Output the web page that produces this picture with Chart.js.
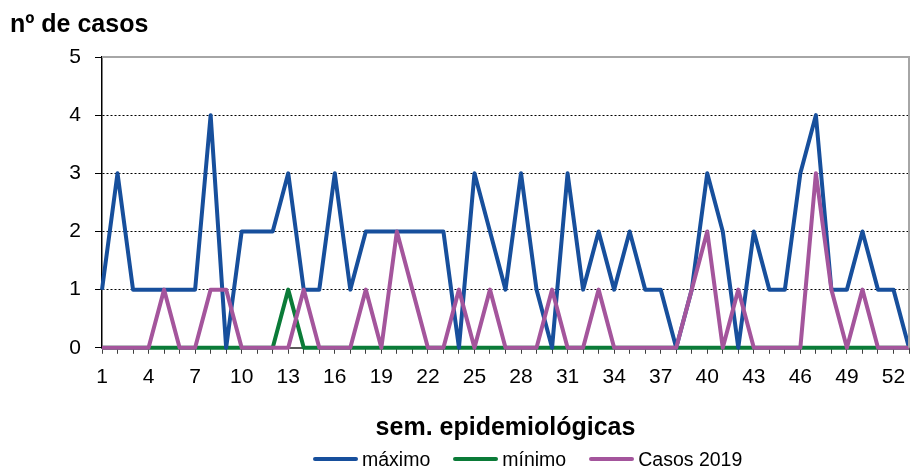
<!DOCTYPE html>
<html>
<head>
<meta charset="utf-8">
<script src="https://cdn.jsdelivr.net/npm/chart.js@4.4.0/dist/chart.umd.min.js"></script>
<style>
    body { margin: 0; background: #fff; }
    #wrap { position: relative; width: 910px; height: 467px; }
    #legend {
        position: absolute; left: 313px; top: 449px; height: 20px;
        display: flex; align-items: center;
        font-family: "Liberation Sans", Arial, sans-serif; font-size: 19.5px; color: #000;
    }
    .item { display: flex; align-items: center; margin-right: 23px; }
    .swatch { width: 45px; height: 4px; border-radius: 2px; margin-right: 4px; }
</style>
</head>
<body>
<div id="wrap">
    <canvas id="chart" width="910" height="467"></canvas>
    <div id="legend"></div>
</div>
<script>
// Weeks (categories)
const weeks = ['1','2','3','4','5','6','7','8','9','10','11','12','13','14','15','16','17','18',
    '19','20','21','22','23','24','25','26','27','28','29','30','31','32','33','34','35','36',
    '37','38','39','40','41','42','43','44','45','46','47','48','49','50','51','52','53'];
const xTickLabels = ['1','4','7','10','13','16','19','22','25','28','31','34','37','40','43','46','49','52'];
const yTickValues = [0, 1, 2, 3, 4, 5];

// Series values
const maximo = [1,3,1,1,1,1,1,4,0,2,2,2,3,1,1,3,1,2,2,2,2,2,2,0,3,2,1,3,1,0,3,1,2,1,2,1,1,0,1,3,2,0,2,1,1,3,4,1,1,2,1,1,0];
const minimo = [0,0,0,0,0,0,0,0,0,0,0,0,1,0,0,0,0,0,0,0,0,0,0,0,0,0,0,0,0,0,0,0,0,0,0,0,0,0,0,0,0,0,0,0,0,0,0,0,0,0,0,0,0];
const casos2019 = [0,0,0,0,1,0,0,1,1,0,0,0,0,1,0,0,0,1,0,2,1,0,0,1,0,1,0,0,0,1,0,0,1,0,0,0,0,0,1,2,0,1,0,0,0,0,3,1,0,1,0,0,0];

const seriesNames = ['máximo', 'mínimo', 'Casos 2019'];
const seriesColors = ['#174f9c', '#0b7b38', '#a4559c'];

const FONT = '"Liberation Sans", Arial, sans-serif';

// Gray frame on the top and right of the plot area
const framePlugin = {
    id: 'frame',
    afterDatasetsDraw(chart) {
        const a = chart.chartArea;
        const ctx = chart.ctx;
        ctx.save();
        ctx.strokeStyle = '#a6a6a6';
        ctx.lineWidth = 2;
        ctx.beginPath();
        ctx.moveTo(a.left, a.top);
        ctx.lineTo(a.right, a.top);
        ctx.lineTo(a.right, a.bottom);
        ctx.stroke();
        ctx.restore();
    }
};

function makeDataset(i, values, order) {
    return {
        label: seriesNames[i],
        data: values,
        borderColor: seriesColors[i],
        backgroundColor: seriesColors[i],
        borderWidth: 4,
        borderJoinStyle: 'round',
        pointRadius: 0,
        tension: 0,
        clip: false,
        order: order
    };
}

new Chart(document.getElementById('chart'), {
    type: 'line',
    data: {
        labels: weeks,
        datasets: [
            makeDataset(0, maximo, 2),
            makeDataset(1, minimo, 3),
            makeDataset(2, casos2019, 1)
        ]
    },
    options: {
        responsive: false,
        animation: false,
        layout: { padding: { left: 10, right: 1, top: 0, bottom: 20 } },
        plugins: {
            legend: { display: false },
            tooltip: { enabled: false },
            title: {
                display: true,
                text: 'nº de casos',
                align: 'start',
                color: '#000',
                font: { family: FONT, size: 25, weight: 'bold' },
                padding: { top: 10, bottom: 17 }
            }
        },
        scales: {
            x: {
                offset: false,
                // plot runs right to the edge, last week has no label
                afterFit: function(scale) { scale.paddingRight = 0; },
                grid: {
                    drawOnChartArea: false,
                    drawTicks: true,
                    tickLength: 6,
                    tickColor: '#404040',
                    tickWidth: 1
                },
                border: { display: true, color: '#595959', width: 2 },
                ticks: {
                    autoSkip: false,
                    maxRotation: 0,
                    padding: 11,
                    color: '#000',
                    font: { family: FONT, size: 21 },
                    callback: function(value, index) {
                        const lbl = weeks[index];
                        return xTickLabels.includes(lbl) ? lbl : '';
                    }
                },
                title: {
                    display: true,
                    text: 'sem. epidemiológicas',
                    color: '#000',
                    font: { family: FONT, size: 25, weight: 'bold' },
                    padding: { top: 12, bottom: 4 }
                }
            },
            y: {
                min: yTickValues[0],
                max: yTickValues[yTickValues.length - 1],
                afterFit: function(scale) { scale.width = 92; },
                grid: {
                    drawTicks: true,
                    tickLength: 7,
                    tickColor: '#000',
                    lineWidth: 1,
                    color: function(ctx) {
                        const v = ctx.tick && ctx.tick.value;
                        return (v === 0 || v === 5) ? 'rgba(0,0,0,0)' : '#000';
                    }
                },
                border: { display: true, color: '#000', width: 1.5, dash: [2, 2] },
                ticks: {
                    stepSize: 1,
                    padding: 14,
                    color: '#000',
                    font: { family: FONT, size: 21 }
                }
            }
        }
    },
    plugins: [framePlugin]
});

// Legend below the chart
const legend = document.getElementById('legend');
seriesNames.forEach((name, i) => {
    const item = document.createElement('div');
    item.className = 'item';
    item.innerHTML = '<span class="swatch" style="background:' + seriesColors[i] + '"></span>' + name;
    legend.appendChild(item);
});
</script>
</body>
</html>
